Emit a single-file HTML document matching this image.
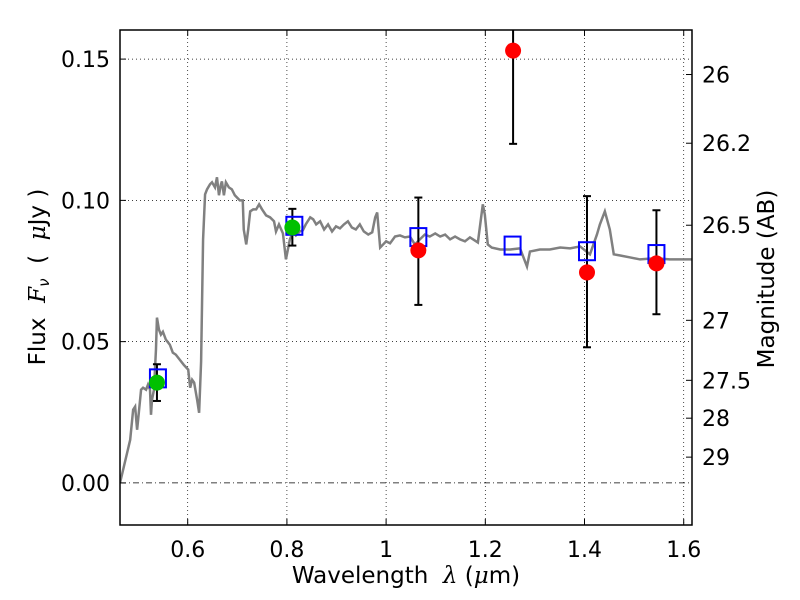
<!DOCTYPE html>
<html><head><meta charset="utf-8"><style>
body{margin:0;background:#fff}
svg{display:block;font-family:"DejaVu Sans","Liberation Sans",sans-serif}
text{white-space:pre}
</style></head><body>
<svg id="chart" width="800" height="600" viewBox="0 0 800 600"></svg>
<script>
const xTicks=[0.6,0.8,1.0,1.2,1.4,1.6];
const xTickLabels=["0.6","0.8","1","1.2","1.4","1.6"];
const yTicks=[0,0.05,0.10,0.15];
const yTickLabels=["0.00","0.05","0.10","0.15"];
const magTicks=[26,26.2,26.5,27,27.5,28,29];
const magTickLabels=["26","26.2","26.5","27","27.5","28","29"];
const specWave=[0.4635,0.484,0.490,0.494,0.498,0.500,0.506,0.510,0.516,0.520,0.524,0.526,0.528,0.532,0.536,0.538,0.542,0.546,0.550,0.556,0.564,0.570,0.576,0.584,0.592,0.601,0.605,0.609,0.613,0.619,0.623,0.627,0.631,0.635,0.639,0.645,0.649,0.655,0.659,0.663,0.667,0.669,0.673,0.677,0.683,0.689,0.695,0.705,0.711,0.713,0.718,0.722,0.726,0.732,0.738,0.744,0.750,0.758,0.766,0.774,0.778,0.784,0.792,0.798,0.806,0.812,0.818,0.826,0.832,0.838,0.847,0.853,0.859,0.867,0.875,0.883,0.891,0.899,0.907,0.915,0.923,0.931,0.939,0.947,0.955,0.964,0.972,0.978,0.982,0.988,0.994,1.000,1.008,1.018,1.028,1.038,1.048,1.058,1.068,1.078,1.088,1.099,1.109,1.119,1.129,1.139,1.149,1.159,1.169,1.185,1.195,1.199,1.205,1.213,1.230,1.250,1.270,1.284,1.290,1.310,1.330,1.351,1.371,1.391,1.411,1.425,1.431,1.441,1.451,1.459,1.472,1.492,1.512,1.532,1.552,1.572,1.593,1.617];
const specFlux=[0,0.0152,0.0259,0.0270,0.0188,0.0223,0.0330,0.0337,0.0330,0.0348,0.0330,0.0241,0.0294,0.0330,0.0472,0.0585,0.0543,0.0525,0.0535,0.0507,0.0489,0.0461,0.0454,0.0436,0.0418,0.0401,0.0337,0.0365,0.0355,0.0294,0.0248,0.0429,0.0862,0.1021,0.1039,0.1057,0.1064,0.1046,0.1082,0.1018,0.1057,0.1067,0.1018,0.1064,0.1046,0.1039,0.1018,0.1000,0.1000,0.0897,0.0844,0.0897,0.0961,0.0968,0.0968,0.0986,0.0968,0.0947,0.0940,0.0926,0.0890,0.0915,0.0883,0.0791,0.0862,0.0887,0.0876,0.0890,0.0894,0.0915,0.0940,0.0933,0.0915,0.0926,0.0897,0.0915,0.0890,0.0908,0.0901,0.0915,0.0926,0.0904,0.0897,0.0915,0.0890,0.0879,0.0887,0.0940,0.0957,0.0833,0.0844,0.0855,0.0848,0.0872,0.0876,0.0869,0.0872,0.0844,0.0862,0.0879,0.0872,0.0883,0.0872,0.0879,0.0862,0.0872,0.0862,0.0855,0.0869,0.0851,0.0986,0.0950,0.0844,0.0833,0.0826,0.0826,0.0830,0.0766,0.0819,0.0826,0.0826,0.0833,0.0830,0.0837,0.0809,0.0879,0.0915,0.0961,0.0897,0.0809,0.0805,0.0798,0.0791,0.0794,0.0794,0.0791,0.0791,0.0791];
const modelWave=[0.540,0.815,1.065,1.255,1.405,1.545];
const modelFlux=[0.037,0.091,0.087,0.084,0.082,0.081];
const greenWave=[0.538,0.811];
const greenFlux=[0.0355,0.0904];
const greenLo=[0.029,0.084];
const greenHi=[0.042,0.097];
const redWave=[1.065,1.256,1.405,1.545];
const redFlux=[0.0823,0.153,0.0745,0.0777];
const redLo=[0.063,0.120,0.048,0.0597];
const redHi=[0.101,0.175,0.1015,0.0965];

const L=120,R=692,T=30,B=525;
const xMin=0.4635,xMax=1.6167,yMin=-0.0149,yMax=0.1603;
const X=v=>L+(v-xMin)/(xMax-xMin)*(R-L);
const Y=v=>B-(v-yMin)/(yMax-yMin)*(B-T);
const magToFlux=m=>Math.pow(10,(23.9-m)/2.5);
const svg=document.getElementById('chart');
const NS='http://www.w3.org/2000/svg';
function mk(tag,attrs,parent){const e=document.createElementNS(NS,tag);for(const k in attrs)e.setAttribute(k,attrs[k]);(parent||svg).appendChild(e);return e;}

const clip=mk('clipPath',{id:'pc'});mk('rect',{x:L,y:T,width:R-L,height:B-T},clip);
const grid=mk('g',{});


xTicks.forEach(v=>mk('line',{x1:X(v),x2:X(v),y1:T,y2:B,stroke:'#000','stroke-width':0.7,'stroke-dasharray':'1,3'},grid));
yTicks.forEach(v=>mk('line',{x1:L,x2:R,y1:Y(v),y2:Y(v),stroke:'#000','stroke-width':0.7,'stroke-dasharray':v===0?'6,3,1,3':'1,3'},grid));

const plot=mk('g',{'clip-path':'url(#pc)'});
const spec=mk('polyline',{points:specWave.map((w,i)=>X(w)+','+Y(specFlux[i])).join(' '),fill:'none',stroke:'#808080','stroke-width':2.5},plot);


function errbar(w,lo,hi,name){const g=mk('g',{stroke:'#000','stroke-width':2},plot);


const x=X(w);mk('line',{x1:x,x2:x,y1:Y(lo),y2:Y(hi)},g);mk('line',{x1:x-4,x2:x+4,y1:Y(lo),y2:Y(lo)},g);mk('line',{x1:x-4,x2:x+4,y1:Y(hi),y2:Y(hi)},g);}
greenWave.forEach((w,i)=>errbar(w,greenLo[i],greenHi[i],'green-errorbar'));
redWave.forEach((w,i)=>errbar(w,redLo[i],redHi[i],'red-errorbar'));
modelWave.forEach((w,i)=>{const r=mk('rect',{x:X(w)-8,y:Y(modelFlux[i])-9,width:16,height:18,fill:'none',stroke:'#0000ff','stroke-width':2},plot);

});
greenWave.forEach((w,i)=>{const c=mk('circle',{cx:X(w),cy:Y(greenFlux[i]),r:8,fill:'#00c000'},plot);

});
redWave.forEach((w,i)=>{const c=mk('circle',{cx:X(w),cy:Y(redFlux[i]),r:8,fill:'#ff0000'},plot);

});

const frame=mk('rect',{x:L,y:T,width:R-L,height:B-T,fill:'none',stroke:'#000','stroke-width':1.5});



xTicks.forEach((v,i)=>{mk('line',{x1:X(v),x2:X(v),y1:B,y2:B-6,stroke:'#000'});mk('line',{x1:X(v),x2:X(v),y1:T,y2:T+6,stroke:'#000'});
const t=mk('text',{x:X(v),y:B+32,'text-anchor':'middle','font-size':22});t.textContent=xTickLabels[i];

});
yTicks.forEach((v,i)=>{mk('line',{x1:L,x2:L+6,y1:Y(v),y2:Y(v),stroke:'#000'});
const t=mk('text',{x:L-10,y:Y(v)+8,'text-anchor':'end','font-size':22});t.textContent=yTickLabels[i];

});
magTicks.forEach((m,i)=>{const y=Y(magToFlux(m));mk('line',{x1:R,x2:R-6,y1:y,y2:y,stroke:'#000'});
const t=mk('text',{x:R+10,y:y+8,'font-size':22});t.textContent=magTickLabels[i];

});

const xl=mk('text',{x:406,y:583,'text-anchor':'middle','font-size':23});
xl.innerHTML='Wavelength  <tspan font-style="italic" font-family="DejaVu Serif, serif">λ</tspan> (<tspan font-style="italic" font-family="DejaVu Serif, serif">μ</tspan>m)';


const yl=mk('text',{x:0,y:0,'text-anchor':'middle','font-size':23,transform:'translate(45,277) rotate(-90)'});
yl.innerHTML='Flux  <tspan font-style="italic" font-family="DejaVu Serif, serif">F</tspan><tspan font-size="15" font-style="italic" dy="4">ν</tspan><tspan dy="-4">  (  </tspan><tspan font-style="italic" font-family="DejaVu Serif, serif">μ</tspan>Jy )';


const rl=mk('text',{x:0,y:0,'text-anchor':'middle','font-size':23,transform:'translate(774,279) rotate(-90)'});
rl.textContent='Magnitude (AB)';


</script>
</body></html>
